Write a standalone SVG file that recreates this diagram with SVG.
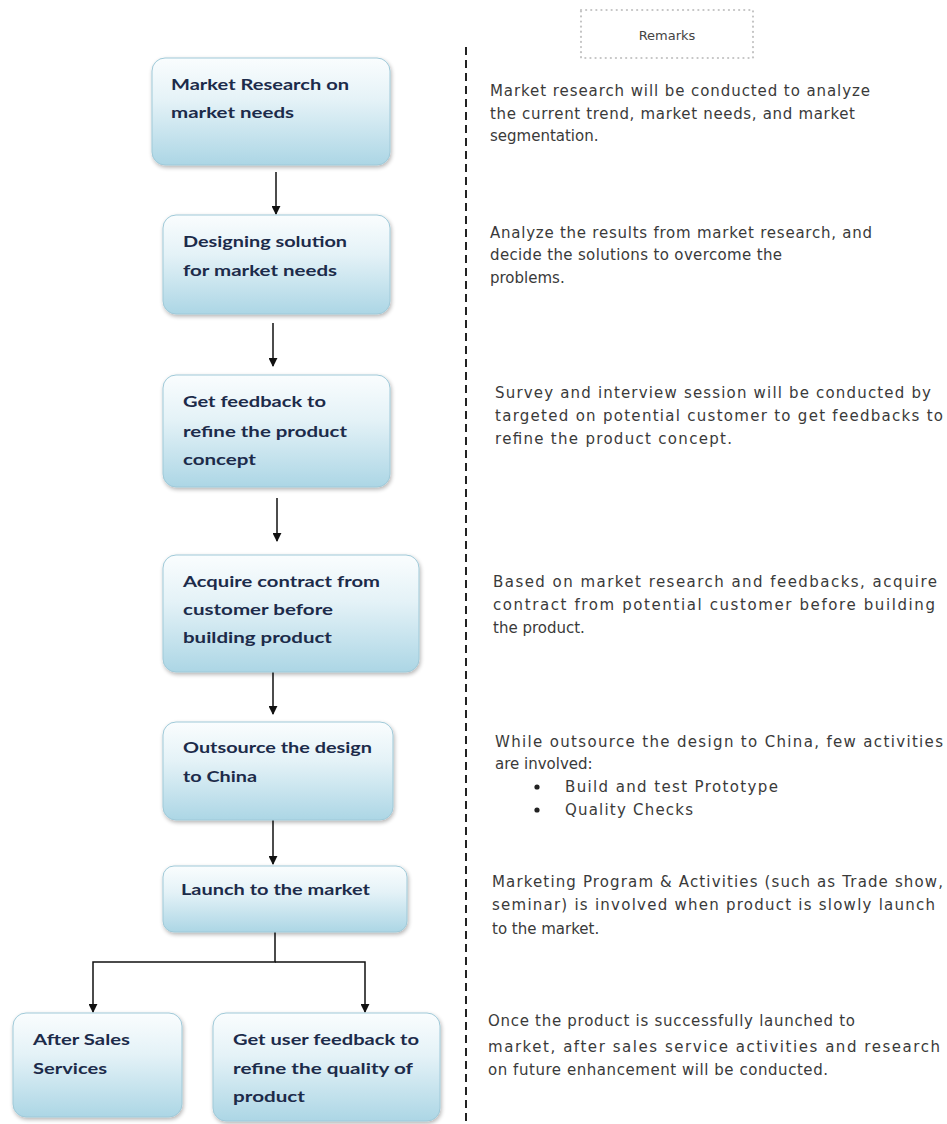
<svg xmlns="http://www.w3.org/2000/svg" width="947" height="1124" viewBox="0 0 947 1124">
<defs>
<linearGradient id="boxg" x1="0" y1="0" x2="0" y2="1">
<stop offset="0" stop-color="#fafdfe"/>
<stop offset="0.4" stop-color="#e4f2f7"/>
<stop offset="1" stop-color="#acd6e5"/>
</linearGradient>
<filter id="sh" x="-10%" y="-10%" width="120%" height="130%">
<feGaussianBlur in="SourceAlpha" stdDeviation="2"/>
<feOffset dx="1" dy="2" result="b"/>
<feComponentTransfer><feFuncA type="linear" slope="0.3"/></feComponentTransfer>
<feMerge><feMergeNode/><feMergeNode in="SourceGraphic"/></feMerge>
</filter>
<marker id="arr" viewBox="0 0 10 10" refX="9" refY="5" markerWidth="9" markerHeight="9" markerUnits="userSpaceOnUse" orient="auto">
<path d="M0,0 L10,5 L0,10 z" fill="#111"/>
</marker>
</defs>
<style>
.box{fill:url(#boxg);stroke:#9fc9d8;stroke-width:1;filter:url(#sh)}
.bt{font-family:Lato,"Liberation Sans",sans-serif;font-weight:bold;font-size:16px;fill:#1c2b4a}
.rt{font-family:"DejaVu Sans","Liberation Sans",sans-serif;font-size:15px;fill:#3a3a3a}
.con{stroke:#111;stroke-width:1.5;fill:none}
</style>
<rect width="947" height="1124" fill="#ffffff"/>

<g id="remarks-header">
<rect x="581" y="10" width="172" height="48" fill="none" stroke="#c4c4c4" stroke-width="2.2" stroke-dasharray="0.1 5" stroke-linecap="round"/>
<text x="667" y="40" text-anchor="middle" font-family="'DejaVu Sans','Liberation Sans',sans-serif" font-size="13" fill="#444">Remarks</text>
</g>

<g id="divider">
<line x1="466" y1="47" x2="466" y2="1124" stroke="#222" stroke-width="2" stroke-dasharray="8 5"/>
</g>

<g id="connectors">
<line class="con" x1="276" y1="172" x2="276" y2="214" marker-end="url(#arr)"/>
<line class="con" x1="273" y1="323" x2="273" y2="366" marker-end="url(#arr)"/>
<line class="con" x1="277" y1="498" x2="277" y2="541" marker-end="url(#arr)"/>
<line class="con" x1="273" y1="671" x2="273" y2="714" marker-end="url(#arr)"/>
<line class="con" x1="273" y1="820" x2="273" y2="864" marker-end="url(#arr)"/>
<polyline class="con" points="275,932 275,962 93,962 93,1012" marker-end="url(#arr)"/>
<polyline class="con" points="275,962 365,962 365,1012" marker-end="url(#arr)"/>
</g>

<g id="n1">
<rect class="box" x="152" y="58" width="238" height="107" rx="13"/>
<text class="bt" x="171" y="90" textLength="178" lengthAdjust="spacingAndGlyphs">Market Research on</text>
<text class="bt" x="171" y="118" textLength="123" lengthAdjust="spacingAndGlyphs">market needs</text>
</g>
<g id="n2">
<rect class="box" x="163" y="215" width="227" height="99" rx="13"/>
<text class="bt" x="183" y="247" textLength="164" lengthAdjust="spacingAndGlyphs">Designing solution</text>
<text class="bt" x="183" y="276" textLength="154" lengthAdjust="spacingAndGlyphs">for market needs</text>
</g>
<g id="n3">
<rect class="box" x="163" y="375" width="227" height="112" rx="13"/>
<text class="bt" x="183" y="407" textLength="143" lengthAdjust="spacingAndGlyphs">Get feedback to</text>
<text class="bt" x="183" y="437" textLength="164" lengthAdjust="spacingAndGlyphs">refine the product</text>
<text class="bt" x="183" y="465" textLength="73" lengthAdjust="spacingAndGlyphs">concept</text>
</g>
<g id="n4">
<rect class="box" x="163" y="555" width="256" height="117" rx="13"/>
<text class="bt" x="183" y="587" textLength="197" lengthAdjust="spacingAndGlyphs">Acquire contract from</text>
<text class="bt" x="183" y="615" textLength="150" lengthAdjust="spacingAndGlyphs">customer before</text>
<text class="bt" x="183" y="643" textLength="149" lengthAdjust="spacingAndGlyphs">building product</text>
</g>
<g id="n5">
<rect class="box" x="163" y="722" width="230" height="98" rx="13"/>
<text class="bt" x="183" y="753" textLength="189" lengthAdjust="spacingAndGlyphs">Outsource the design</text>
<text class="bt" x="183" y="782" textLength="74" lengthAdjust="spacingAndGlyphs">to China</text>
</g>
<g id="n6">
<rect class="box" x="163" y="866" width="244" height="66" rx="11"/>
<text class="bt" x="181" y="895" textLength="189" lengthAdjust="spacingAndGlyphs">Launch to the market</text>
</g>
<g id="n7">
<rect class="box" x="13" y="1013" width="169" height="104" rx="13"/>
<text class="bt" x="33" y="1045" textLength="97" lengthAdjust="spacingAndGlyphs">After Sales</text>
<text class="bt" x="33" y="1074" textLength="74" lengthAdjust="spacingAndGlyphs">Services</text>
</g>
<g id="n8">
<rect class="box" x="213" y="1013" width="227" height="108" rx="13"/>
<text class="bt" x="233" y="1045" textLength="186" lengthAdjust="spacingAndGlyphs">Get user feedback to</text>
<text class="bt" x="233" y="1074" textLength="180" lengthAdjust="spacingAndGlyphs">refine the quality of</text>
<text class="bt" x="233" y="1102" textLength="72" lengthAdjust="spacingAndGlyphs">product</text>
</g>

<g id="remark1">
<text class="rt" x="490" y="96" textLength="380">Market research will be conducted to analyze</text>
<text class="rt" x="490" y="119" textLength="365">the current trend, market needs, and market</text>
<text class="rt" x="490" y="141">segmentation.</text>
</g>
<g id="remark2">
<text class="rt" x="490" y="238" textLength="382">Analyze the results from market research, and</text>
<text class="rt" x="490" y="260" textLength="292">decide the solutions to overcome the</text>
<text class="rt" x="490" y="283">problems.</text>
</g>
<g id="remark3">
<text class="rt" x="495" y="398" textLength="436">Survey and interview session will be conducted by</text>
<text class="rt" x="495" y="421" textLength="448">targeted on potential customer to get feedbacks to</text>
<text class="rt" x="495" y="444" textLength="237">refine the product concept.</text>
</g>
<g id="remark4">
<text class="rt" x="493" y="587" textLength="444">Based on market research and feedbacks, acquire</text>
<text class="rt" x="493" y="610" textLength="442">contract from potential customer before building</text>
<text class="rt" x="493" y="633">the product.</text>
</g>
<g id="remark5">
<text class="rt" x="495" y="747" textLength="448">While outsource the design to China, few activities</text>
<text class="rt" x="495" y="769">are involved:</text>
<circle cx="537" cy="787" r="2.6" fill="#222"/>
<text class="rt" x="565" y="792" textLength="213">Build and test Prototype</text>
<circle cx="537" cy="810" r="2.6" fill="#222"/>
<text class="rt" x="565" y="815" textLength="128">Quality Checks</text>
</g>
<g id="remark6">
<text class="rt" x="492" y="887" textLength="451">Marketing Program &amp; Activities (such as Trade show,</text>
<text class="rt" x="492" y="910" textLength="443">seminar) is involved when product is slowly launch</text>
<text class="rt" x="492" y="934">to the market.</text>
</g>
<g id="remark7">
<text class="rt" x="488" y="1026" textLength="367">Once the product is successfully launched to</text>
<text class="rt" x="488" y="1052" textLength="452">market, after sales service activities and research</text>
<text class="rt" x="488" y="1075" textLength="340">on future enhancement will be conducted.</text>
</g>
</svg>
